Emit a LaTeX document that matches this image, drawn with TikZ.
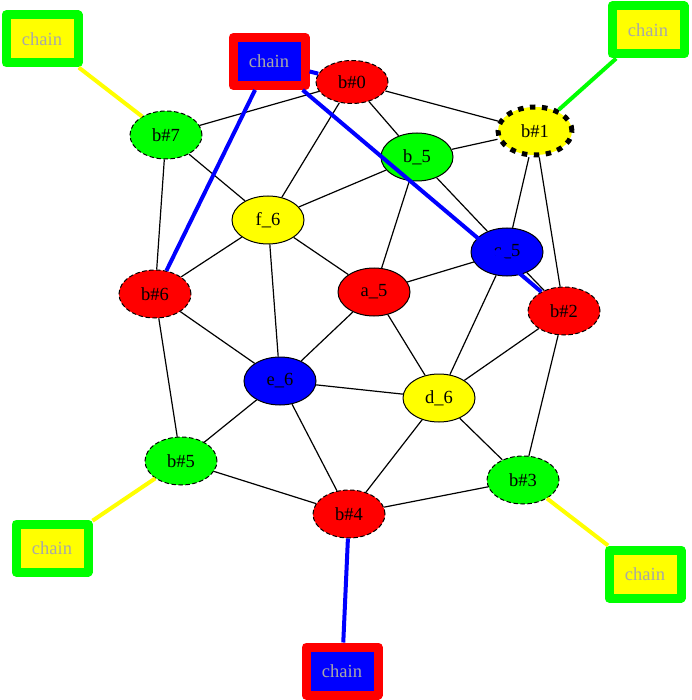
\documentclass[tikz,border=0pt]{standalone}
\usepackage{fontspec}
\setmainfont{Liberation Serif}
\usetikzlibrary{shapes.geometric,backgrounds}
\definecolor{cred}{RGB}{255,0,0}
\definecolor{cgreen}{RGB}{0,255,0}
\definecolor{cblue}{RGB}{0,0,255}
\definecolor{cyellow}{RGB}{255,255,0}
\definecolor{chaingray}{RGB}{168,168,168}
\begin{document}
\begin{tikzpicture}[x=1pt,y=-1pt,
  gnode/.style={ellipse, draw=black, line width=1pt, minimum width=72pt, minimum height=48pt,
    inner sep=0pt, font=\fontsize{18.5}{22}\selectfont},
  dnode/.style={gnode, dash pattern=on 4.5pt off 2.5pt},
  boldnode/.style={gnode, line width=5pt, dash pattern=on 5.5pt off 6.5pt, minimum width=74pt},
  chainbox/.style={rectangle, line width=9pt, line join=round, minimum width=72pt, minimum height=48pt,
    inner sep=0pt, text=chaingray, font=\fontsize{18.5}{22}\selectfont},
  gychain/.style={chainbox, draw=cgreen, fill=cyellow},
  rbchain/.style={chainbox, draw=cred, fill=cblue},
  edge/.style={draw=black, line width=1.2pt},
  yedge/.style={draw=cyellow, line width=4pt},
  gedge/.style={draw=cgreen, line width=4pt},
  bedge/.style={draw=cblue, line width=4pt}]
\useasboundingbox (0,0) rectangle (691,700);

% graph nodes
\node[dnode, fill=cred, minimum height=43pt] (h0) at (352,82) {b\#0};
\node[boldnode, fill=cyellow] (h1) at (535,131) {b\#1};
\node[gnode, fill=cgreen] (b5) at (417,157) {b\_5};
\node[dnode, fill=cgreen] (h7) at (166,135) {b\#7};
\node[gnode, fill=cyellow] (f6) at (268,220) {f\_6};
\node[gnode, fill=cblue] (c5) at (507,252) {c\_5};
\node[dnode, fill=cred] (h6) at (155,294) {b\#6};
\node[gnode, fill=cred] (a5) at (374,292) {a\_5};
\node[dnode, fill=cred] (h2) at (564,311) {b\#2};
\node[gnode, fill=cblue] (e6) at (280,381) {e\_6};
\node[gnode, fill=cyellow] (d6) at (439,398) {d\_6};
\node[dnode, fill=cgreen] (h5) at (181,461) {b\#5};
\node[dnode, fill=cgreen] (h3) at (523,480) {b\#3};
\node[dnode, fill=cred] (h4) at (349,514) {b\#4};

% chain boxes
\node[gychain] (cTL) at (42,39) {chain};
\node[rbchain] (cT) at (269,61.5) {chain};
\node[gychain] (cTR) at (648,30) {chain};
\node[gychain] (cBL) at (52,548) {chain};
\node[gychain] (cBR) at (645,574) {chain};
\node[rbchain] (cB) at (342,671) {chain};

% black edges under nodes
\begin{pgfonlayer}{background}
\path[edge] (h0) -- (h7);
\path[edge] (h0) -- (h1);
\path[edge] (h0) -- (b5);
\path[edge] (h0) -- (f6);
\path[edge] (h7) -- (f6);
\path[edge] (h7) -- (h6);
\path[edge] (b5) -- (f6);
\path[edge] (b5) -- (h1);
\path[edge] (b5) -- (c5);
\path[edge] (b5) -- (a5);
\path[edge] (f6) -- (h6);
\path[edge] (f6) -- (a5);
\path[edge] (f6) -- (e6);
\path[edge] (c5) -- (h1);
\path[edge] (h1) -- (h2);
\path[edge] (c5) -- (a5);
\path[edge] (c5) -- (d6);
\path[edge] (c5) -- (h2);
\path[edge] (h6) -- (e6);
\path[edge] (h6) -- (h5);
\path[edge] (a5) -- (e6);
\path[edge] (a5) -- (d6);
\path[edge] (h2) -- (d6);
\path[edge] (h2) -- (h3);
\path[edge] (e6) -- (d6);
\path[edge] (e6) -- (h5);
\path[edge] (e6) -- (h4);
\path[edge] (d6) -- (h4);
\path[edge] (d6) -- (h3);
\path[edge] (h5) -- (h4);
\path[edge] (h4) -- (h3);
\end{pgfonlayer}

% coloured edges on top
\path[yedge] (cTL) -- (h7);
\path[gedge] (cTR) -- (h1);
\path[yedge] (cBL) -- (h5);
\path[yedge] (cBR) -- (h3);
\path[bedge] (cB) -- (h4);
\path[bedge] (cT) -- (h0);
\path[bedge] (cT) -- (h6);
\path[bedge] (cT) -- (h2);
\end{tikzpicture}
\end{document}
